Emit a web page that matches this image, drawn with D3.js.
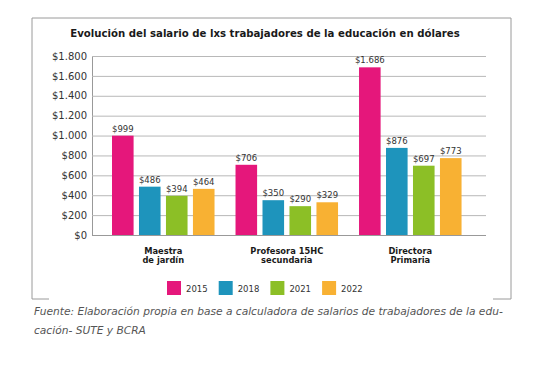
<!DOCTYPE html>
<html>
<head>
<meta charset="utf-8">
<script src="https://cdn.jsdelivr.net/npm/d3@7"></script>
<style>
  body { margin: 0; background: #fff; }
  svg { display: block; font-family: "DejaVu Sans", sans-serif; }
</style>
</head>
<body>
<div id="chart"></div>
<script>
const categories = ["Maestra|de jardín", "Profesora 15HC|secundaria", "Directora|Primaria"];
const years = ["2015", "2018", "2021", "2022"];
const salary2015 = [999, 706, 1686];
const salary2018 = [486, 350, 876];
const salary2021 = [394, 290, 697];
const salary2022 = [464, 329, 773];
const yearColors = ["#e5177b", "#1e94bc", "#8cbf26", "#f8b133"];
const yTicks = [0, 200, 400, 600, 800, 1000, 1200, 1400, 1600, 1800];
const title = "Evolución del salario de lxs trabajadores de la educación en dólares";
const source = ["Fuente: Elaboración propia en base a calculadora de salarios de trabajadores de la edu-",
                "cación- SUTE y BCRA"];

const series = [salary2015, salary2018, salary2021, salary2022];
const rows = categories.map((c, i) => ({cat: c, values: years.map((yr, j) => ({year: yr, value: series[j][i]}))}));

const width = 536, height = 368;
const plot = {left: 92, right: 486, top: 56, bottom: 235};

const locale = d3.formatLocale({decimal: ",", thousands: ".", grouping: [3], currency: ["$", ""]});
const money = locale.format("$,.0f");

// shrink/grow a text so it spans the given width
const fitText = (sel, w) => {
    const len = sel.node().getComputedTextLength();
    const fs = parseFloat(sel.attr("font-size"));
    sel.attr("font-size", (fs * w / len).toFixed(2));
};

const x0 = d3.scaleBand()
    .domain(categories)
    .range([plot.left, plot.right])
    .paddingInner(0.17)
    .paddingOuter(0.18)
    .align(0.45);

const x1 = d3.scaleBand()
    .domain(years)
    .range([0, x0.bandwidth()])
    .paddingInner(0.2);

const y = d3.scaleLinear()
    .domain([0, 1800])
    .range([plot.bottom, plot.top]);

const color = d3.scaleOrdinal().domain(years).range(yearColors);

const svg = d3.select("#chart").append("svg")
    .attr("width", width)
    .attr("height", height);

// frame (bottom edge only shows short stubs)
svg.append("path")
    .attr("d", "M49,299H32V18H511V299H493")
    .attr("fill", "none")
    .attr("stroke", "#9a9a9a")
    .attr("stroke-width", 1);

const t = svg.append("text")
    .attr("x", 265).attr("y", 37)
    .attr("text-anchor", "middle")
    .attr("font-size", 12)
    .attr("font-weight", "bold")
    .attr("fill", "#1a1a1a")
    .text(title);
fitText(t, 390);

const yAxis = g => g
    .attr("transform", `translate(${plot.left},0)`)
    .call(d3.axisLeft(y).tickValues(yTicks).tickFormat(money)
        .tickSize(-(plot.right - plot.left)).tickPadding(5))
    .call(g => g.select(".domain").attr("stroke", "#999"))
    .call(g => g.selectAll(".tick line").attr("stroke", "#b8b8b8"))
    .call(g => g.selectAll(".tick").filter(d => d === 0).select("line").attr("stroke", "#999"))
    .call(g => g.selectAll(".tick text").attr("fill", "#333").attr("font-size", 10)
        .attr("font-family", "DejaVu Sans"));

svg.append("g").call(yAxis);

const groups = svg.append("g").selectAll("g")
    .data(rows)
    .join("g")
    .attr("transform", d => `translate(${x0(d.cat)},0)`);

groups.selectAll("rect")
    .data(d => d.values)
    .join("rect")
    .attr("x", d => x1(d.year))
    .attr("y", d => y(d.value))
    .attr("width", x1.bandwidth())
    .attr("height", d => y(0) - y(d.value))
    .attr("fill", d => color(d.year));

groups.selectAll("text.val")
    .data(d => d.values)
    .join("text")
    .attr("class", "val")
    .attr("x", d => x1(d.year) + x1.bandwidth() / 2)
    .attr("y", d => y(d.value) - 4)
    .attr("text-anchor", "middle")
    .attr("font-size", 8.5)
    .attr("fill", "#333")
    .text(d => money(d.value));

// category labels, two lines each
const catLabels = svg.append("g").selectAll("text")
    .data(categories)
    .join("text")
    .attr("x", d => x0(d) + x0.bandwidth() / 2)
    .attr("y", 254)
    .attr("text-anchor", "middle")
    .attr("font-size", 8.3)
    .attr("font-weight", "bold")
    .attr("fill", "#1a1a1a");
catLabels.selectAll("tspan")
    .data(d => d.split("|"))
    .join("tspan")
    .attr("x", function() { return d3.select(this.parentNode).attr("x"); })
    .attr("dy", (d, i) => i ? 9.2 : 0)
    .text(d => d);

// legend
const legend = svg.append("g").selectAll("g")
    .data(years)
    .join("g")
    .attr("transform", (d, i) => `translate(${167 + i * 51.7},281)`);
legend.append("rect")
    .attr("width", 14).attr("height", 14)
    .attr("fill", d => color(d));
legend.append("text")
    .attr("x", 19).attr("y", 10.5)
    .attr("font-size", 8.5)
    .attr("fill", "#333")
    .text(d => d);

// source note
const s1 = svg.append("text")
    .attr("x", 34).attr("y", 315)
    .attr("font-size", 10)
    .attr("font-style", "italic")
    .attr("fill", "#555")
    .text(source[0]);
fitText(s1, 469);
svg.append("text")
    .attr("x", 34).attr("y", 334)
    .attr("font-size", s1.attr("font-size"))
    .attr("font-style", "italic")
    .attr("fill", "#555")
    .text(source[1]);
</script>
</body>
</html>
